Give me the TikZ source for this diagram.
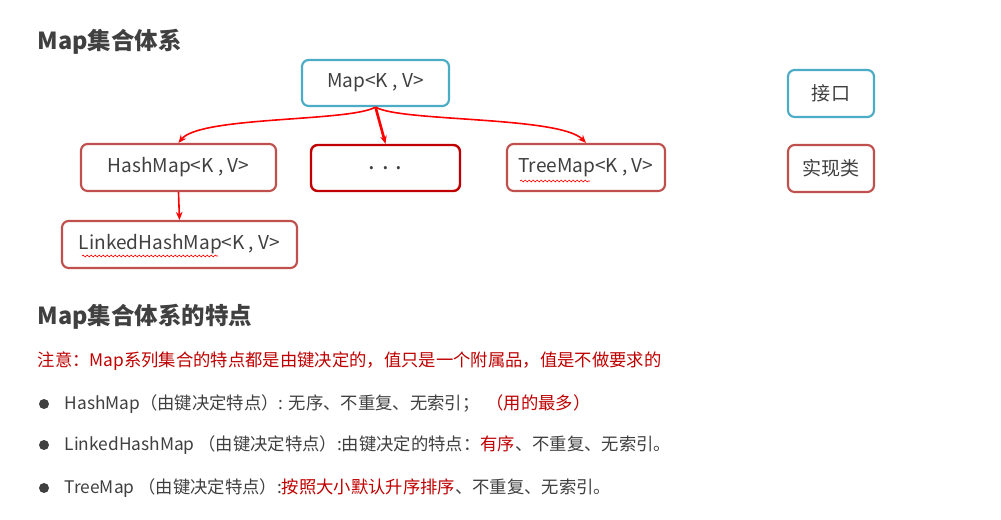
\documentclass[tikz,border=0pt]{standalone}
\usepackage{fontspec}
\setmainfont{Noto Sans CJK SC}
\usetikzlibrary{arrows.meta,decorations.pathmorphing}
\definecolor{ifblue}{HTML}{4BACC6}
\definecolor{imred}{HTML}{C0504D}
\definecolor{dkred}{HTML}{C00000}
\definecolor{txt}{HTML}{404040}
\definecolor{arr}{HTML}{FF0000}
\tikzset{
  box/.style={draw, rounded corners=5pt, line width=1.6pt, inner sep=0pt, text=txt, font=\fontsize{14.3}{16}\selectfont},
  ifbox/.style={box, draw=ifblue},
  imbox/.style={box, draw=imred},
  dkbox/.style={box, draw=dkred, line width=1.8pt},
  conn/.style={draw=arr, line width=1.2pt, -{Stealth[length=6pt,width=5pt]}},
  head/.style={anchor=west, text=txt, font=\fontsize{17.6}{19}\selectfont\bfseries},
  line/.style={anchor=west, text=txt, font=\fontsize{13}{15}\selectfont},
  bul/.style={circle, fill=txt, inner sep=0pt, minimum size=7.5pt},
  wavy/.style={draw=arr, line width=0.5pt, decorate, decoration={snake, segment length=3pt, amplitude=0.7pt}}
}
\begin{document}
\begin{tikzpicture}[x=0.75pt,y=-0.75pt]
\useasboundingbox (0,0) rectangle (1001,520);
\fill[white] (0,0) rectangle (1001,520);

\node[head] (t1) at (33,42) {Map集合体系};

\node[ifbox, minimum width=110.25pt, minimum height=34.5pt] (map) at (375.5,83) {Map<K , V>};
\node[imbox, minimum width=146.25pt, minimum height=35.25pt] (hash) at (178.5,167.5) {HashMap<K , V>};
\node[dkbox, minimum width=111.75pt, minimum height=34.5pt] (dots) at (385.5,168) {\fontsize{18}{18}\selectfont . . .};
\node[imbox, minimum width=118.5pt, minimum height=35.25pt] (tree) at (586,167.5) {TreeMap<K , V>};
\node[imbox, minimum width=176.25pt, minimum height=35.25pt] (linked) at (179.5,244.5) {LinkedHashMap<K , V>};

\node[ifbox, minimum width=64.5pt, minimum height=35.25pt] (iface) at (831,93.5) {接口};
\node[imbox, minimum width=64.5pt, minimum height=35.25pt] (impl) at (831,168.5) {实现类};

\draw[conn] (map.south) .. controls (350,122) and (200,116) .. (hash.north);
\draw[conn, line width=2pt] (map.south) -- (dots.north);
\draw[conn] (map.south) .. controls (400,122) and (560,116) .. (tree.north);
\draw[conn] (hash.south) -- (linked.north);

\draw[wavy] (520,181) -- (590,181);
\draw[wavy] (82,256) -- (218,256);

\node[head] (t2) at (33,317) {Map集合体系的特点};

\node[line, text=dkred] (note) at (33,361) {注意：Map系列集合的特点都是由键决定的，值只是一个附属品，值是不做要求的};

\node[bul] (b1) at (44,404) {};
\node[line] (l1) at (60,404) {HashMap（由键决定特点）: 无序、不重复、无索引；\hspace{0.4em}\textcolor{dkred}{（用的最多）}};
\node[bul] (b2) at (44,445) {};
\node[line] (l2) at (60,445) {LinkedHashMap （由键决定特点）:由键决定的特点：\textcolor{dkred}{有序}、不重复、无索引。};
\node[bul] (b3) at (44,488) {};
\node[line] (l3) at (60,488) {TreeMap （由键决定特点）:\textcolor{dkred}{按照大小默认升序排序}、不重复、无索引。};
\end{tikzpicture}
\end{document}
